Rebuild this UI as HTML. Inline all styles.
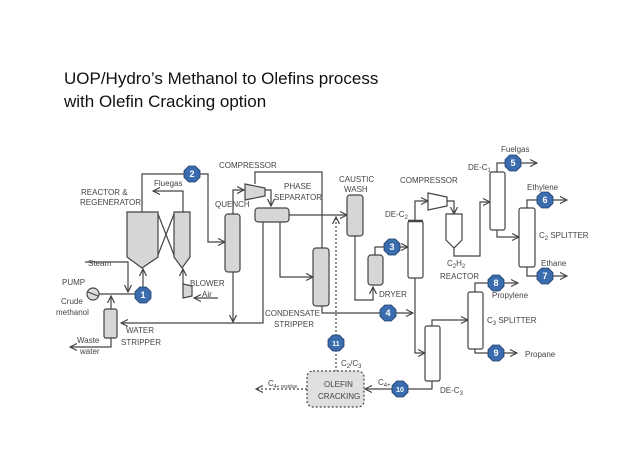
<!DOCTYPE html>
<html><head><style>body{margin:0;background:#fff}svg{display:block}</style></head><body>
<svg width="638" height="452" viewBox="0 0 638 452" xmlns="http://www.w3.org/2000/svg" font-family="Liberation Sans, sans-serif">
<defs>
<marker id="a" markerWidth="8" markerHeight="8" refX="7" refY="4" orient="auto" markerUnits="userSpaceOnUse"><path d="M0,0.5 L7,4 L0,7.5" fill="none" stroke="#444" stroke-width="1.2"/></marker>
<symbol id="n" viewBox="-8 -8 16 16" overflow="visible"><polygon points="-3.3,-8 3.3,-8 8,-3.3 8,3.3 3.3,8 -3.3,8 -8,3.3 -8,-3.3" fill="#3a6cae" stroke="#1e3f6e" stroke-width="0.8"/></symbol>
</defs>
<text x="64" y="84" font-size="17" fill="#111">UOP/Hydro’s Methanol to Olefins process</text>
<text x="64" y="107" font-size="17" fill="#111">with Olefin Cracking option</text>
<g stroke="#444" stroke-width="1.2" fill="none">
<!-- reactor & regen -->
<path d="M127,212 H158 V257 L142,268 L127,257 Z" fill="#d6d6d6"/>
<path d="M174,212 H190 V257 L182,268 L174,257 Z" fill="#d6d6d6"/>
<path d="M158,214 L174,255 M158,255 L174,214"/>
<path d="M142,212 V174 H208 V242 H225" marker-end="url(#a)"/>
<path d="M183,212 V191 H153" marker-end="url(#a)"/>
<path d="M85,262 H128 V292" marker-end="url(#a)"/>
<path d="M99,294 H143 V269" marker-end="url(#a)"/>
<circle cx="93" cy="294" r="6" fill="#ddd"/>
<path d="M88,292 L98,296"/>
<path d="M111,309 V296" marker-end="url(#a)"/>
<path d="M111,338 V347 H70" marker-end="url(#a)"/>
<rect x="104" y="309" width="13" height="29" rx="2" fill="#d6d6d6"/>
<path d="M183,284 L192,286 V296 L183,298 Z" fill="#d6d6d6"/>
<path d="M183,284 V269" marker-end="url(#a)"/>
<path d="M218,298 H194" marker-end="url(#a)"/>
<!-- quench / compressor / separator -->
<rect x="225" y="214" width="15" height="58" rx="3" fill="#d6d6d6"/>
<path d="M233,214 V190 H244" marker-end="url(#a)"/>
<path d="M245,184 L265,188 V196 L245,200 Z" fill="#d6d6d6"/>
<path d="M265,190 H271 V206" marker-end="url(#a)"/>
<path d="M255,184 V172 H322 V248"/>
<rect x="255" y="208" width="34" height="14" rx="3" fill="#d6d6d6"/>
<path d="M289,215 H347" marker-end="url(#a)"/>
<path d="M280,222 V277 H313" marker-end="url(#a)"/>
<path d="M263,222 V323 H121" marker-end="url(#a)"/>
<path d="M233,272 V322" marker-end="url(#a)"/>
<rect x="313" y="248" width="16" height="58" rx="3" fill="#d6d6d6"/>
<path d="M322,306 V313 H413" marker-end="url(#a)"/>
<!-- dashed -->
<path d="M336,400 V217" stroke-dasharray="2,2" marker-end="url(#a)"/>
<rect x="307" y="371" width="57" height="36" rx="6" fill="#e0e0e0" stroke-dasharray="2,2"/>
<path d="M307,389 H256" stroke-dasharray="2,2" marker-end="url(#a)"/>
<path d="M432,381 V389 H365" marker-end="url(#a)"/>
<!-- caustic, dryer -->
<rect x="347" y="195" width="16" height="41" rx="3" fill="#d6d6d6"/>
<path d="M355,236 V300 H373 V287" marker-end="url(#a)"/>
<rect x="368" y="255" width="15" height="30" rx="3" fill="#d6d6d6"/>
<path d="M375,255 V247 H408" marker-end="url(#a)"/>
<!-- DE-C2 -->
<rect x="408" y="221" width="15" height="57" rx="2" fill="#fff"/>
<path d="M408,221 H423" stroke-width="2.5"/>
<path d="M415,221 V201 H428" marker-end="url(#a)"/>
<path d="M428,193 L447,197 V206 L428,210 Z" fill="#fff"/>
<path d="M447,201 H454 V214" marker-end="url(#a)"/>
<path d="M446,214 H462 V240 L454,248 L446,240 Z" fill="#fff"/>
<path d="M454,248 V256 H480 V202 H490" marker-end="url(#a)"/>
<path d="M415,278 V353 H425" marker-end="url(#a)"/>
<rect x="490" y="172" width="15" height="58" rx="2" fill="#fff"/>
<path d="M497,172 V163 H537" marker-end="url(#a)"/>
<path d="M497,230 V237 H519" marker-end="url(#a)"/>
<rect x="519" y="208" width="16" height="59" rx="2" fill="#fff"/>
<path d="M527,208 V200 H567" marker-end="url(#a)"/>
<path d="M527,267 V276 H567" marker-end="url(#a)"/>
<rect x="425" y="326" width="15" height="55" rx="2" fill="#fff"/>
<path d="M432,326 V320 H468" marker-end="url(#a)"/>
<rect x="468" y="292" width="15" height="57" rx="2" fill="#fff"/>
<path d="M475,292 V283 H518" marker-end="url(#a)"/>
<path d="M475,349 V353 H517" marker-end="url(#a)"/>
</g>
<g fill="#fff" font-size="9" font-weight="bold" text-anchor="middle">
<use href="#n" x="135" y="287" width="16" height="16"/><text x="143" y="298">1</text>
<use href="#n" x="184" y="166" width="16" height="16"/><text x="192" y="177">2</text>
<use href="#n" x="384" y="239" width="16" height="16"/><text x="392" y="250">3</text>
<use href="#n" x="380" y="305" width="16" height="16"/><text x="388" y="316">4</text>
<use href="#n" x="505" y="155" width="16" height="16"/><text x="513" y="166">5</text>
<use href="#n" x="537" y="192" width="16" height="16"/><text x="545" y="203">6</text>
<use href="#n" x="537" y="268" width="16" height="16"/><text x="545" y="279">7</text>
<use href="#n" x="488" y="275" width="16" height="16"/><text x="496" y="286">8</text>
<use href="#n" x="488" y="345" width="16" height="16"/><text x="496" y="356">9</text>
<use href="#n" x="392" y="381" width="16" height="16"/><text x="400" y="392" font-size="7">10</text>
<use href="#n" x="328" y="335" width="16" height="16"/><text x="336" y="346" font-size="7">11</text>
</g>
<g fill="#444" font-size="8">
<text x="81" y="195">REACTOR &amp;</text><text x="80" y="205">REGENERATOR</text>
<text x="154" y="186">Fluegas</text>
<text x="219" y="168">COMPRESSOR</text>
<text x="284" y="189">PHASE</text><text x="274" y="200">SEPARATOR</text>
<text x="215" y="207">QUENCH</text>
<text x="339" y="182">CAUSTIC</text><text x="344" y="192">WASH</text>
<text x="88" y="266">Steam</text>
<text x="62" y="285">PUMP</text>
<text x="61" y="304">Crude</text><text x="56" y="315">methanol</text>
<text x="190" y="286">BLOWER</text>
<text x="202" y="297">Air</text>
<text x="126" y="333">WATER</text><text x="121" y="345">STRIPPER</text>
<text x="77" y="343">Waste</text><text x="80" y="354">water</text>
<text x="265" y="316">CONDENSATE</text><text x="274" y="327">STRIPPER</text>
<text x="379" y="297">DRYER</text>
<text x="400" y="183">COMPRESSOR</text>
<text x="385" y="217">DE-C<tspan font-size="6" dy="2">2</tspan></text>
<text x="497" y="175" font-size="0"></text>
<text x="468" y="170">DE-C<tspan font-size="6" dy="2">1</tspan></text>
<text x="501" y="152">Fuelgas</text>
<text x="527" y="190">Ethylene</text>
<text x="539" y="238">C<tspan font-size="6" dy="2">2</tspan><tspan dy="-2"> SPLITTER</tspan></text>
<text x="541" y="266">Ethane</text>
<text x="447" y="266">C<tspan font-size="6" dy="2">2</tspan><tspan dy="-2">H</tspan><tspan font-size="6" dy="2">2</tspan></text>
<text x="440" y="279">REACTOR</text>
<text x="492" y="298">Propylene</text>
<text x="487" y="323">C<tspan font-size="6" dy="2">3</tspan><tspan dy="-2"> SPLITTER</tspan></text>
<text x="525" y="357">Propane</text>
<text x="440" y="393">DE-C<tspan font-size="6" dy="2">3</tspan></text>
<text x="341" y="366">C<tspan font-size="6" dy="2">2</tspan><tspan dy="-2">/C</tspan><tspan font-size="6" dy="2">3</tspan></text>
<text x="378" y="385">C<tspan font-size="6" dy="2">4+</tspan></text>
<text x="268" y="386">C<tspan font-size="5" dy="2">4+ residue</tspan></text>
<text x="324" y="387">OLEFIN</text><text x="318" y="399">CRACKING</text>
</g>
</svg>
</body></html>
